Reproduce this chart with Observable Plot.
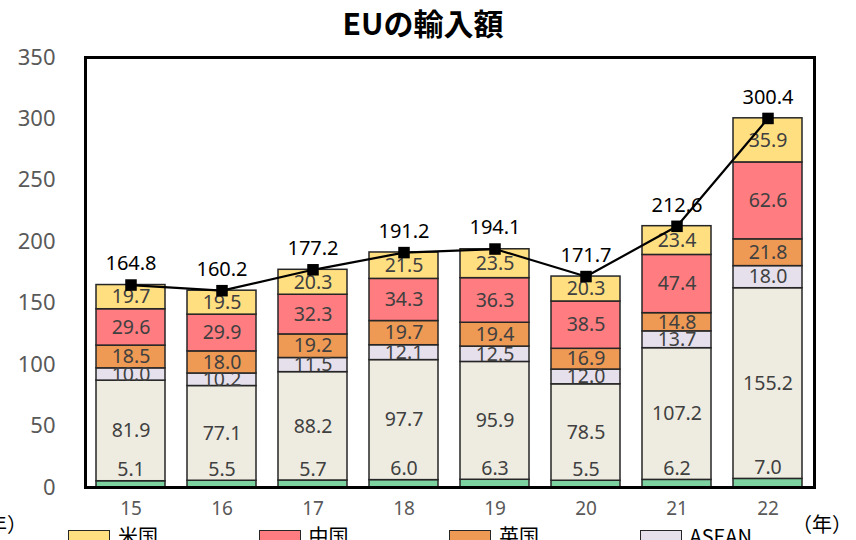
<!DOCTYPE html>
<html><head><meta charset="utf-8">
<script src="https://cdn.jsdelivr.net/npm/d3@7"></script>
<script src="https://cdn.jsdelivr.net/npm/@observablehq/plot@0.6"></script>
<style>
body{margin:0;width:856px;height:540px;overflow:hidden;position:relative;background:#fff;font-family:"Noto Sans","Noto Sans CJK JP",sans-serif;}
#title{height:40px;line-height:44px;text-align:center;font-family:"Noto Sans CJK JP",sans-serif;font-weight:bold;font-size:30px;color:#000;padding-right:10px;}
#chart{position:absolute;left:0;top:40px;}
.unit{position:absolute;font-family:"Noto Sans CJK JP",sans-serif;font-size:20px;color:#000;top:509px;}
.leg{position:absolute;top:529px;height:20px;font-family:"Noto Sans CJK JP",sans-serif;font-size:20px;color:#000;}
.sw{position:absolute;left:0;top:1px;width:40px;height:16px;border:1.5px solid #262626;}
.lt{position:absolute;left:50px;top:-8px;white-space:nowrap;}
</style></head>
<body>
<div id="title">EUの輸入額</div>
<div id="chart"></div>
<span class="unit" style="left:-33px">（年）</span>
<span class="unit" style="left:792px">（年）</span>
<div id="legend"></div>
<script>
const years = ["15","16","17","18","19","20","21","22"];
const seriesNames = ["日本","その他","ASEAN","英国","中国","米国"];
const seriesColors = ["#7dd3a0","#eeece1","#e6e0ec","#ee9a55","#ff7c80","#ffdf80"];
const japan = [5.1,5.5,5.7,6.0,6.3,5.5,6.2,7.0];
const other = [81.9,77.1,88.2,97.7,95.9,78.5,107.2,155.2];
const asean = [10.0,10.2,11.5,12.1,12.5,12.0,13.7,18.0];
const uk = [18.5,18.0,19.2,19.7,19.4,16.9,14.8,21.8];
const china = [29.6,29.9,32.3,34.3,36.3,38.5,47.4,62.6];
const us = [19.7,19.5,20.3,21.5,23.5,20.3,23.4,35.9];
const totals = [164.8,160.2,177.2,191.2,194.1,171.7,212.6,300.4];
const legendNames = ["米国","中国","英国","ASEAN"];
const yTicks = [0,50,100,150,200,250,300,350];

const seriesValues = [japan, other, asean, uk, china, us];
const rows = [];
seriesNames.forEach((s, i) => years.forEach((y, j) => rows.push({year: y, series: s, value: seriesValues[i][j]})));
const totalRows = years.map((y, j) => ({year: y, total: totals[j]}));
const japanRows = rows.filter(d => d.series === "日本");

const plot = Plot.plot({
  width: 856, height: 488,
  marginTop: 17, marginBottom: 41, marginLeft: 85, marginRight: 42,
  style: {fontFamily: '"Noto Sans", sans-serif', background: "transparent"},
  x: {domain: years, paddingInner: 0.24, paddingOuter: 0.12, label: null},
  y: {domain: [0, 350], label: null},
  color: {domain: seriesNames, range: seriesColors},
  marks: [
    Plot.axisY({ticks: yTicks, tickSize: 0, tickPadding: 30, fontSize: 22, fill: "#595959", label: null}),
    Plot.axisX({tickSize: 0, tickPadding: 14, fontSize: 19, fill: "#595959", label: null}),
    Plot.barY(rows, Plot.stackY({x: "year", y: "value", z: "series", fill: "series", stroke: "#262626", strokeWidth: 1.5, order: seriesNames})),
    Plot.text(rows, Plot.stackY({x: "year", y: "value", z: "series", order: seriesNames,
      text: d => d.series === "日本" ? "" : d.value.toFixed(1), fill: "#404040", fontSize: 19.5})),
    Plot.text(japanRows, {x: "year", y: "value", text: d => d.value.toFixed(1), dy: -11, fill: "#404040", fontSize: 19.5}),
    Plot.line(totalRows, {x: "year", y: "total", stroke: "black", strokeWidth: 2.2}),
    Plot.dot(totalRows, {x: "year", y: "total", symbol: "square", r: 6.5, fill: "black", stroke: "none"}),
    Plot.text(totalRows, {x: "year", y: "total", text: d => d.total.toFixed(1), dy: -21, fill: "black", fontSize: 20}),
    Plot.frame({stroke: "black", strokeWidth: 3})
  ]
});
document.getElementById("chart").appendChild(plot);

const legend = document.getElementById("legend");
const colorOf = Object.fromEntries(seriesNames.map((s, i) => [s, seriesColors[i]]));
legendNames.forEach((name, i) => {
  const item = document.createElement("div");
  item.className = "leg";
  item.style.left = (68 + i * 190.5) + "px";
  item.innerHTML = `<div class="sw" style="background:${colorOf[name]}"></div><span class="lt">${name}</span>`;
  legend.appendChild(item);
});
</script>
</body></html>
